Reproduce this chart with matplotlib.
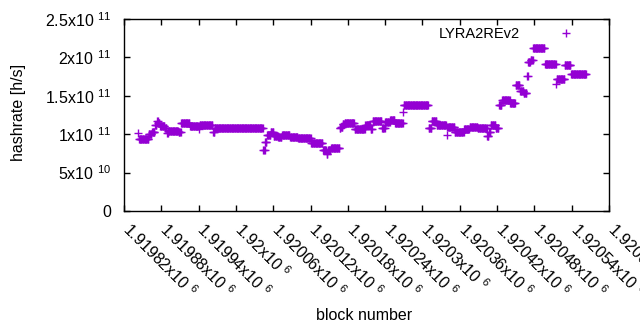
import numpy as np
import matplotlib
matplotlib.use("Agg")
import matplotlib.pyplot as plt
from matplotlib.transforms import ScaledTranslation

plt.rcParams['font.family'] = ['Liberation Sans', 'DejaVu Sans']

# hashrate runs: run starts at block run_start[i], holds run_value[i]
run_start = [1919843, 1919844, 1919860, 1919865, 1919870, 1919873, 1919875, 1919878,
             1919886, 1919889, 1919891, 1919908, 1919912, 1919926, 1919941, 1919942,
             1919963, 1919966, 1920044, 1920047, 1920050, 1920056, 1920061, 1920068,
             1920074, 1920087, 1920100, 1920121, 1920140, 1920146, 1920148, 1920153,
             1920167, 1920169, 1920172, 1920175, 1920191, 1920208, 1920217, 1920220,
             1920235, 1920240, 1920248, 1920256, 1920269, 1920270, 1920310, 1920315,
             1920323, 1920339, 1920340, 1920352, 1920367, 1920376, 1920389, 1920404,
             1920407, 1920410, 1920418, 1920423, 1920428, 1920441, 1920450, 1920457,
             1920463, 1920468, 1920470, 1920474, 1920478, 1920497, 1920515, 1920516,
             1920529, 1920539, 1920542]
run_value = [1.01, 0.933, 1.00, 1.03, 1.12, 1.175, 1.15, 1.107,
             1.077, 1.01, 1.045, 1.025, 1.14, 1.107, 1.064, 1.12,
             1.025, 1.077, 0.794, 0.90, 0.99, 1.025, 0.98, 0.96,
             0.99, 0.967, 0.946, 0.89, 0.794, 0.745, 0.794, 0.816,
             1.077, 1.10, 1.13, 1.15, 1.064, 1.12, 1.064, 1.175,
             1.077, 1.163, 1.19, 1.14, 1.293, 1.38, 1.085, 1.175,
             1.12, 0.99, 1.09, 1.033, 1.064, 1.10, 1.077, 0.977,
             1.033, 1.12, 1.077, 1.38, 1.445, 1.40, 1.64, 1.567,
             1.53, 1.76, 1.94, 1.966, 2.12, 1.91, 1.65, 1.72,
             1.90, 1.78, 1.79]
last_block = 1920563

xticks = [1919820 + 60 * i for i in range(14)]
yticks = [0, 0.5e11, 1e11, 1.5e11, 2e11, 2.5e11]

# expand runs into one point per block
blocks = []
rates = []
ends = run_start[1:] + [last_block + 1]
for s, e, v in zip(run_start, ends, run_value):
    for b in range(s, e):
        blocks.append(b)
        rates.append(v * 1e11)


def sci(v):
    if v == 0:
        return '0'
    exp = int(np.floor(np.log10(abs(v))))
    m = v / 10 ** exp
    return '{:g}x10 $\\mathregular{{^{{{}}}}}$'.format(round(m, 6), exp)


fig = plt.figure(figsize=(6.4, 3.3), dpi=100)
ax = fig.add_axes([124 / 640, 1 - 211 / 330, 485 / 640, 192 / 330])

ax.plot(blocks, rates, linestyle='none', marker='+', color='#9400d3',
        markersize=6, markeredgewidth=1.0, label='LYRA2REv2')

ax.set_xlim(1919820, 1920600)
ax.set_ylim(0, 2.5e11)
ax.set_xticks(xticks)
ax.set_xticklabels([sci(t) for t in xticks], rotation=-45, ha='left', va='top',
                   rotation_mode='anchor')
ax.set_yticks(yticks)
ax.set_yticklabels([sci(t) for t in yticks])
ax.tick_params(direction='in', length=4, width=1, top=True, right=True,
               labelsize=11.5, colors='black')
ax.tick_params(axis='y', pad=9)
ax.tick_params(axis='x', pad=6)
shift = ScaledTranslation(6 / 72, 0, fig.dpi_scale_trans)
for lab in ax.get_xticklabels():
    lab.set_transform(lab.get_transform() + shift)
for sp in ax.spines.values():
    sp.set_linewidth(1)

ax.set_xlabel('block number', fontsize=11.5)
ax.xaxis.set_label_coords(0.495, -0.505)
ax.set_ylabel('hashrate [h/s]', fontsize=11.5)
ax.yaxis.set_label_coords(-0.202, 0.515)

ax.legend(loc='upper right', bbox_to_anchor=(0.942, 0.96), frameon=False,
          markerfirst=False, borderpad=0, borderaxespad=0, handlelength=2,
          handletextpad=2.2, fontsize=10.5)

fig.savefig('out.png', dpi=100)
